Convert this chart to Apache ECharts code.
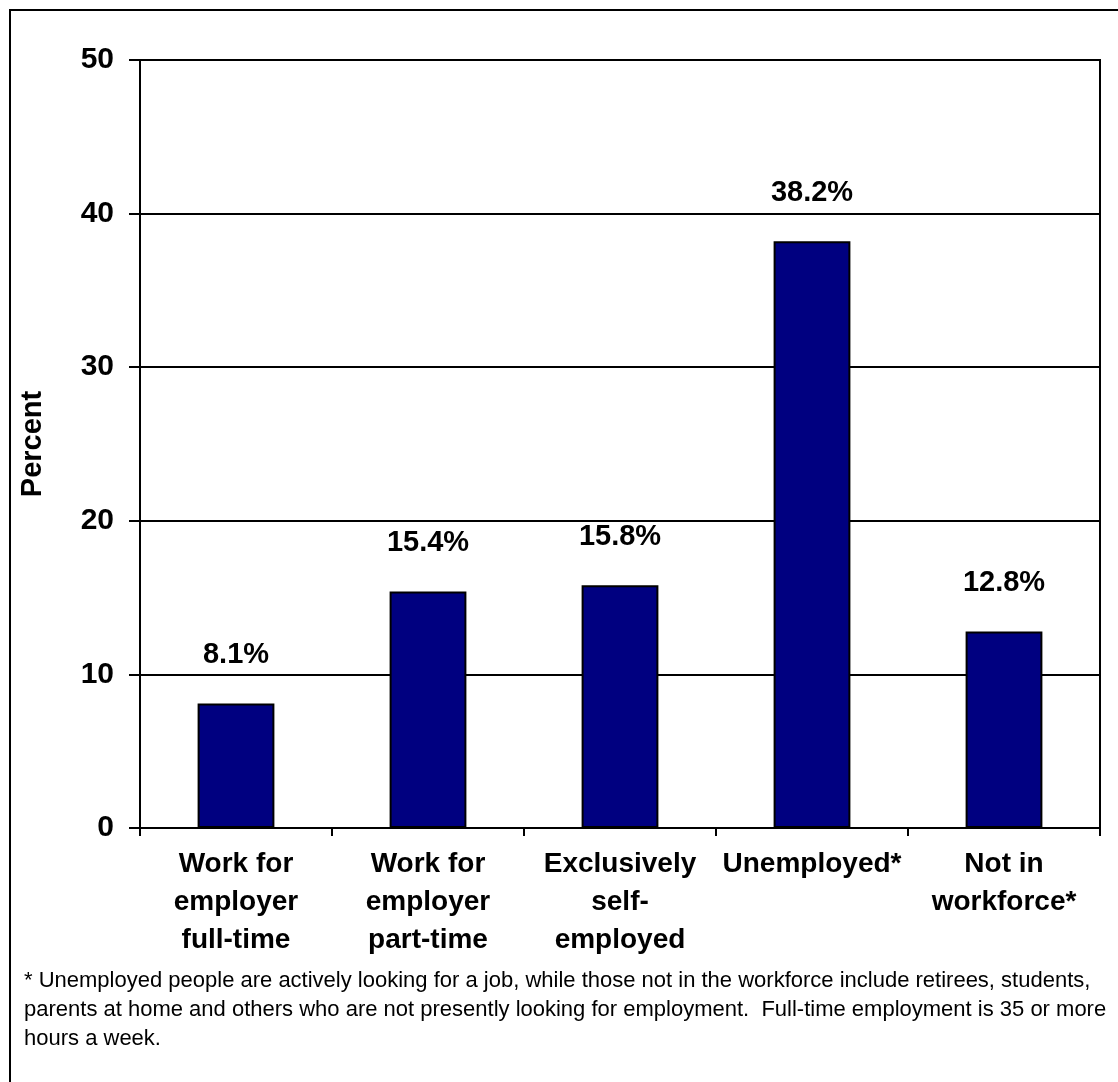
<!DOCTYPE html>
<html>
<head>
<meta charset="utf-8">
<script src="https://cdn.jsdelivr.net/npm/echarts@6/dist/echarts.min.js"></script>
<style>
  html, body { margin: 0; padding: 0; background: #fff; }
  #chart { width: 1118px; height: 1082px; }
</style>
</head>
<body>
<div id="chart"></div>
<script>
  var categories = [
    'Work for\nemployer\nfull-time',
    'Work for\nemployer\npart-time',
    'Exclusively\nself-\nemployed',
    'Unemployed*',
    'Not in\nworkforce*'
  ]
  var values = [8.1, 15.4, 15.8, 38.2, 12.8]
  var yTicks = [0, 10, 20, 30, 40, 50]
  var footnote = [
    '* Unemployed people are actively looking for a job, while those not in the workforce include retirees, students,',
    'parents at home and others who are not presently looking for employment.  Full-time employment is 35 or more',
    'hours a week.'
  ]

  var font = '"Liberation Sans", Arial, sans-serif'
  var chart = echarts.init(document.getElementById('chart'))

  chart.setOption({
    animation: false,
    backgroundColor: '#fff',
    grid: {
      left: 140,
      right: 18,
      top: 60,
      bottom: 254,
      show: true,
      borderColor: '#000',
      borderWidth: 2
    },
    xAxis: {
      type: 'category',
      data: categories,
      axisLine: { lineStyle: { color: '#000', width: 2 } },
      axisTick: { show: true, length: 8, lineStyle: { color: '#000', width: 2 } },
      axisLabel: {
        interval: 0,
        margin: 17,
        color: '#000',
        fontFamily: font,
        fontWeight: 'bold',
        fontSize: 28,
        lineHeight: 38
      }
    },
    yAxis: {
      type: 'value',
      min: yTicks[0],
      max: yTicks[yTicks.length - 1],
      interval: 10,
      name: 'Percent',
      nameLocation: 'middle',
      nameGap: 93,
      nameTextStyle: {
        color: '#000',
        fontFamily: font,
        fontWeight: 'bold',
        fontSize: 29
      },
      axisLine: { show: true, lineStyle: { color: '#000', width: 2 } },
      axisTick: { show: true, length: 11, lineStyle: { color: '#000', width: 2 } },
      axisLabel: {
        margin: 26,
        color: '#000',
        fontFamily: font,
        fontWeight: 'bold',
        fontSize: 30
      },
      splitLine: { show: true, lineStyle: { color: '#000', width: 2 } }
    },
    series: [{
      type: 'bar',
      data: values,
      barWidth: '40%',
      itemStyle: {
        color: '#000080',
        borderColor: '#000',
        borderWidth: 2
      },
      label: {
        show: true,
        position: 'top',
        distance: 34,
        formatter: function (p) { return p.value.toFixed(1) + '%' },
        color: '#000',
        fontFamily: font,
        fontWeight: 'bold',
        fontSize: 29
      }
    }],
    graphic: [
      {
        type: 'rect',
        shape: { x: 10, y: 10, width: 1120, height: 1090 },
        style: { fill: null, stroke: '#000', lineWidth: 2 },
        silent: true
      },
      {
        type: 'text',
        left: 24,
        top: 966,
        style: {
          text: footnote.join('\n'),
          fill: '#000',
          font: '22px ' + font,
          lineHeight: 29
        }
      }
    ]
  })
</script>
</body>
</html>
